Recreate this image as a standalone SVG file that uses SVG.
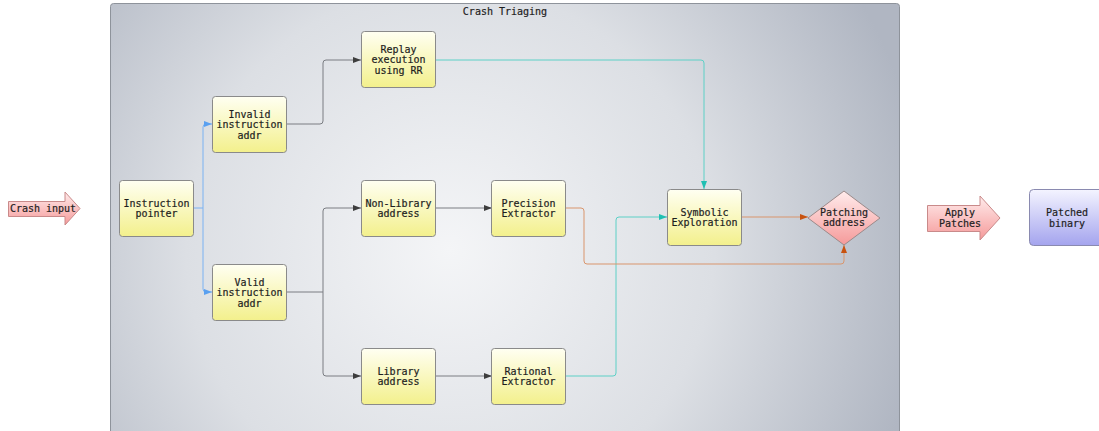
<svg xmlns="http://www.w3.org/2000/svg" width="1099" height="431" viewBox="0 0 1099 431">
<defs>
<radialGradient id="bg" cx="450" cy="250" r="480" gradientUnits="userSpaceOnUse">
<stop offset="0" stop-color="#f4f5f7"/>
<stop offset="0.55" stop-color="#dcdfe4"/>
<stop offset="1" stop-color="#b0b6c2"/>
</radialGradient>
<linearGradient id="yel" x1="0" y1="0" x2="0" y2="1">
<stop offset="0" stop-color="#fffff2"/>
<stop offset="1" stop-color="#f3f08c"/>
</linearGradient>
<linearGradient id="pink" x1="0" y1="0" x2="0" y2="1">
<stop offset="0" stop-color="#ffecec"/>
<stop offset="1" stop-color="#f59a9a"/>
</linearGradient>
<linearGradient id="lav" x1="0" y1="0" x2="0" y2="1">
<stop offset="0" stop-color="#f4f4ff"/>
<stop offset="1" stop-color="#a4a4ee"/>
</linearGradient>
<marker id="aDark" markerWidth="8" markerHeight="6" refX="8" refY="3" orient="auto" markerUnits="userSpaceOnUse"><path d="M0,0 L8,3 L0,6 z" fill="#3d3d3d"/></marker>
<marker id="aBlue" markerWidth="8" markerHeight="6" refX="8" refY="3" orient="auto" markerUnits="userSpaceOnUse"><path d="M0,0 L8,3 L0,6 z" fill="#5aa0f0"/></marker>
<marker id="aTeal" markerWidth="8" markerHeight="6" refX="8" refY="3" orient="auto" markerUnits="userSpaceOnUse"><path d="M0,0 L8,3 L0,6 z" fill="#1fbfb2"/></marker>
<marker id="aOrg" markerWidth="8" markerHeight="6" refX="8" refY="3" orient="auto" markerUnits="userSpaceOnUse"><path d="M0,0 L8,3 L0,6 z" fill="#c8520f"/></marker>
</defs>
<style>
.node{fill:url(#yel);stroke:#8a8a8a;stroke-width:1}
.t{font-family:"DejaVu Sans Mono","Liberation Mono",monospace;font-size:10px;fill:#1e1e1e;stroke:#1e1e1e;stroke-width:0.2;text-anchor:middle}
.c{fill:none;stroke-width:1;stroke-linejoin:round}
.dark{stroke:#7a7d82}
.blue{stroke:#7ab2f2}
.teal{stroke:#5cd0c6}
.org{stroke:#d9956c}
</style>

<g id="container">
<rect x="110.5" y="3.5" width="789" height="440" rx="3" fill="url(#bg)" stroke="#8e939b"/>
<text class="t" x="505" y="15">Crash Triaging</text>
</g>

<g id="connectors">
<path class="c blue" d="M193,208 H203"/>
<path class="c blue" d="M203,208 V127 Q203,124 206,124 H212" marker-end="url(#aBlue)"/>
<path class="c blue" d="M203,208 V289 Q203,292 206,292 H212" marker-end="url(#aBlue)"/>
<path class="c dark" d="M287,124 H320 Q323,124 323,121 V63 Q323,60 326,60 H361" marker-end="url(#aDark)"/>
<path class="c dark" d="M287,292 H323"/>
<path class="c dark" d="M323,292 V211 Q323,208 326,208 H361" marker-end="url(#aDark)"/>
<path class="c dark" d="M323,292 V373 Q323,376 326,376 H361" marker-end="url(#aDark)"/>
<path class="c dark" d="M436,208 H492" marker-end="url(#aDark)"/>
<path class="c dark" d="M436,376 H492" marker-end="url(#aDark)"/>
<path class="c teal" d="M435,60 H701 Q704,60 704,63 V189" marker-end="url(#aTeal)"/>
<path class="c teal" d="M566,376 H613 Q616,376 616,373 V220 Q616,217 619,217 H667" marker-end="url(#aTeal)"/>
<path class="c org" d="M566,208 H581 Q584,208 584,211 V261 Q584,264 587,264 H841 Q844,264 844,261 V245" marker-end="url(#aOrg)"/>
<path class="c org" d="M742,217 H808" marker-end="url(#aOrg)"/>
</g>

<g id="crash-input">
<path d="M8.5,201.5 H65 V192 L80,208.5 L65,225 V216.5 H8.5 Z" fill="url(#pink)" stroke="#c98a8a"/>
<text class="t" x="43" y="212">Crash input</text>
</g>

<g id="instruction-pointer">
<rect class="node" x="119.5" y="180.5" width="74" height="56" rx="3"/>
<text class="t" x="156.5" y="206.5">Instruction</text>
<text class="t" x="156.5" y="217">pointer</text>
</g>

<g id="invalid-addr">
<rect class="node" x="212.5" y="96.5" width="74" height="56" rx="3"/>
<text class="t" x="249.5" y="117.5">Invalid</text>
<text class="t" x="249.5" y="128">instruction</text>
<text class="t" x="249.5" y="138.5">addr</text>
</g>

<g id="valid-addr">
<rect class="node" x="212.5" y="264.5" width="74" height="56" rx="3"/>
<text class="t" x="249.5" y="285.5">Valid</text>
<text class="t" x="249.5" y="296">instruction</text>
<text class="t" x="249.5" y="306.5">addr</text>
</g>

<g id="replay">
<rect class="node" x="361.5" y="31.5" width="74" height="56" rx="3"/>
<text class="t" x="398.5" y="52.5">Replay</text>
<text class="t" x="398.5" y="63">execution</text>
<text class="t" x="398.5" y="73.5">using RR</text>
</g>

<g id="non-library">
<rect class="node" x="361.5" y="180.5" width="74" height="56" rx="3"/>
<text class="t" x="398.5" y="206.5">Non-Library</text>
<text class="t" x="398.5" y="217">address</text>
</g>

<g id="library">
<rect class="node" x="361.5" y="348.5" width="74" height="56" rx="3"/>
<text class="t" x="398.5" y="374.5">Library</text>
<text class="t" x="398.5" y="385">address</text>
</g>

<g id="precision">
<rect class="node" x="491.5" y="180.5" width="74" height="56" rx="3"/>
<text class="t" x="528.5" y="206.5">Precision</text>
<text class="t" x="528.5" y="217">Extractor</text>
</g>

<g id="rational">
<rect class="node" x="491.5" y="348.5" width="74" height="56" rx="3"/>
<text class="t" x="528.5" y="374.5">Rational</text>
<text class="t" x="528.5" y="385">Extractor</text>
</g>

<g id="symbolic">
<rect class="node" x="667.5" y="189.5" width="74" height="56" rx="3"/>
<text class="t" x="704.5" y="215.5">Symbolic</text>
<text class="t" x="704.5" y="226">Exploration</text>
</g>

<g id="patching-address">
<path d="M844,191 L880,218 L844,245 L808,218 Z" fill="url(#pink)" stroke="#9a8a8a" stroke-linejoin="round"/>
<text class="t" x="844" y="215.5">Patching</text>
<text class="t" x="844" y="226">address</text>
</g>

<g id="apply-patches">
<path d="M927.5,205.5 H980 V196 L1000,218 L980,240 V231.5 H927.5 Z" fill="url(#pink)" stroke="#c98a8a"/>
<text class="t" x="960" y="216">Apply</text>
<text class="t" x="960" y="226.5">Patches</text>
</g>

<g id="patched-binary">
<rect x="1029.5" y="189.5" width="75" height="56" rx="4" fill="url(#lav)" stroke="#8a8ab0"/>
<text class="t" x="1067" y="216">Patched</text>
<text class="t" x="1067" y="226.5">binary</text>
</g>
</svg>
